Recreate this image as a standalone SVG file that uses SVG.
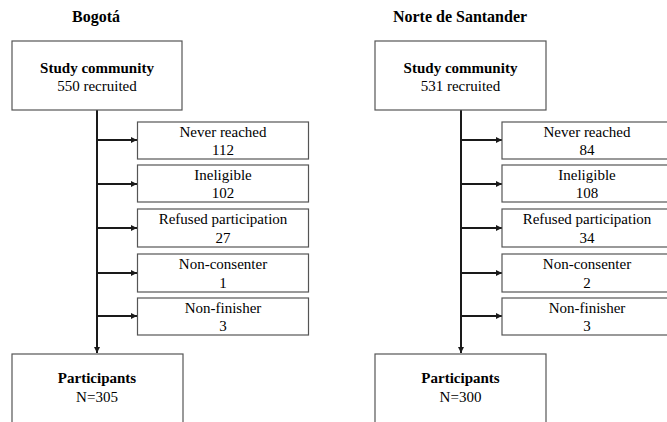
<svg xmlns="http://www.w3.org/2000/svg" width="667" height="422" viewBox="0 0 667 422">
<style>
text{font-family:'Liberation Serif','DejaVu Serif',serif;fill:#000;text-anchor:middle}
.t{font-size:16px;font-weight:bold}
.b{font-size:15px;font-weight:bold}
.r{font-size:15px}
rect{fill:#fff;stroke:#555;stroke-width:1.2}
.c line{stroke:#1a1a1a;stroke-width:2}
</style>
<defs>
<marker id="ah" viewBox="0 0 6 6" refX="6" refY="3" markerWidth="3" markerHeight="3" orient="auto" markerUnits="strokeWidth">
<path d="M0,0L6,3L0,6z" fill="#1a1a1a"/>
</marker>
</defs>
<rect width="667" height="422" style="fill:#fff;stroke:none"/>
<text class="t" x="96" y="22">Bogotá</text>
<text class="t" x="460" y="22">Norte de Santander</text>
<g class="c" id="connectors">
<line x1="97" y1="110" x2="97" y2="353" marker-end="url(#ah)"/>
<line x1="97" y1="140" x2="137" y2="140" marker-end="url(#ah)"/>
<line x1="97" y1="184" x2="137" y2="184" marker-end="url(#ah)"/>
<line x1="97" y1="228" x2="137" y2="228" marker-end="url(#ah)"/>
<line x1="97" y1="273" x2="137" y2="273" marker-end="url(#ah)"/>
<line x1="97" y1="316" x2="137" y2="316" marker-end="url(#ah)"/>
<line x1="461" y1="110" x2="461" y2="353" marker-end="url(#ah)"/>
<line x1="461" y1="140" x2="502" y2="140" marker-end="url(#ah)"/>
<line x1="461" y1="184" x2="502" y2="184" marker-end="url(#ah)"/>
<line x1="461" y1="228" x2="502" y2="228" marker-end="url(#ah)"/>
<line x1="461" y1="273" x2="502" y2="273" marker-end="url(#ah)"/>
<line x1="461" y1="316" x2="502" y2="316" marker-end="url(#ah)"/>
</g>
<g id="b-study"><rect x="12" y="41" width="170" height="69"/><text class="b" x="97" y="73">Study community</text><text class="r" x="97" y="91">550 recruited</text></g>
<g id="b-never"><rect x="137.5" y="122" width="171" height="37"/><text class="r" x="223" y="137">Never reached</text><text class="r" x="223" y="155">112</text></g>
<g id="b-inel"><rect x="137.5" y="165" width="171" height="37"/><text class="r" x="223" y="180">Ineligible</text><text class="r" x="223" y="198">102</text></g>
<g id="b-ref"><rect x="137.5" y="209" width="171" height="38"/><text class="r" x="223" y="224">Refused participation</text><text class="r" x="223" y="243">27</text></g>
<g id="b-noncons"><rect x="137.5" y="254" width="171" height="38"/><text class="r" x="223" y="269">Non-consenter</text><text class="r" x="223" y="288">1</text></g>
<g id="b-nonfin"><rect x="137.5" y="298" width="171" height="37"/><text class="r" x="223" y="313">Non-finisher</text><text class="r" x="223" y="331">3</text></g>
<g id="b-part"><rect x="12" y="354" width="171" height="80"/><text class="b" x="97" y="383">Participants</text><text class="r" x="97" y="402">N=305</text></g>
<g id="n-study"><rect x="375" y="41" width="171" height="69"/><text class="b" x="460.5" y="73">Study community</text><text class="r" x="460.5" y="91">531 recruited</text></g>
<g id="n-never"><rect x="502" y="122" width="172" height="37"/><text class="r" x="587" y="137">Never reached</text><text class="r" x="587" y="155">84</text></g>
<g id="n-inel"><rect x="502" y="165" width="172" height="37"/><text class="r" x="587" y="180">Ineligible</text><text class="r" x="587" y="198">108</text></g>
<g id="n-ref"><rect x="502" y="209" width="172" height="38"/><text class="r" x="587" y="224">Refused participation</text><text class="r" x="587" y="243">34</text></g>
<g id="n-noncons"><rect x="502" y="254" width="172" height="38"/><text class="r" x="587" y="269">Non-consenter</text><text class="r" x="587" y="288">2</text></g>
<g id="n-nonfin"><rect x="502" y="298" width="172" height="37"/><text class="r" x="587" y="313">Non-finisher</text><text class="r" x="587" y="331">3</text></g>
<g id="n-part"><rect x="375" y="354" width="171" height="80"/><text class="b" x="460.5" y="383">Participants</text><text class="r" x="460.5" y="402">N=300</text></g>
</svg>
